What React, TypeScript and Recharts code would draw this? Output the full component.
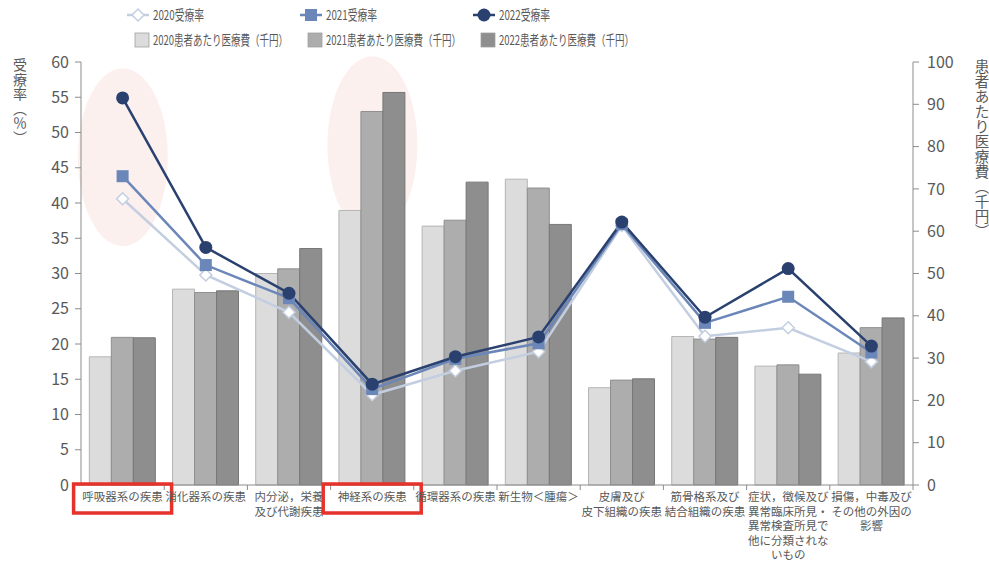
import React from 'react';
import { ComposedChart, Bar, Line, XAxis, YAxis } from 'recharts';

const categories = [
  '呼吸器系の疾患',
  '消化器系の疾患',
  '内分泌，栄養\n及び代謝疾患',
  '神経系の疾患',
  '循環器系の疾患',
  '新生物＜腫瘍＞',
  '皮膚及び\n皮下組織の疾患',
  '筋骨格系及び\n結合組織の疾患',
  '症状，徴候及び\n異常臨床所見・\n異常検査所見で\n他に分類されな\nいもの',
  '損傷，中毒及び\nその他の外因の\n影響',
];

// 受療率 (%) - left axis
const rate2020 = [40.6, 29.8, 24.5, 12.8, 16.2, 18.9, 36.8, 21.1, 22.3, 17.5];
const rate2021 = [43.8, 31.2, 26.5, 13.6, 17.9, 20.1, 37.0, 23.0, 26.7, 18.8];
const rate2022 = [54.9, 33.7, 27.2, 14.3, 18.2, 21.0, 37.3, 23.8, 30.7, 19.7];

// 患者あたり医療費 (千円) - right axis
const cost2020 = [30.3, 46.3, 50.0, 64.9, 61.2, 72.3, 23.0, 35.1, 28.1, 31.2];
const cost2021 = [34.9, 45.5, 51.1, 88.3, 62.6, 70.2, 24.8, 34.5, 28.4, 37.2];
const cost2022 = [34.8, 45.9, 55.9, 92.8, 71.6, 61.6, 25.1, 34.9, 26.2, 39.5];

// centre (on the % axis) of the pink highlight ellipses
const highlightCenter = [46.5, null, null, 48.2, null, null, null, null, null, null];

const leftTicks = [0, 5, 10, 15, 20, 25, 30, 35, 40, 45, 50, 55, 60];
const rightTicks = [0, 10, 20, 30, 40, 50, 60, 70, 80, 90, 100];

const highlighted = ['呼吸器系の疾患', '神経系の疾患'];

const leftTitle = ['受', '療', '率', '︵', '％', '︶'];
const rightTitle = ['患', '者', 'あ', 'た', 'り', '医', '療', '費', '︵', '千', '円', '︶'];

const FONT = "'Noto Sans CJK JP', 'Noto Sans', sans-serif";
const TEXT = '#595959';
const AXIS = '#8c8c8c';

const lineColors = { r2020: '#c3cee0', r2021: '#6b86b8', r2022: '#2a4170' };
const barColors = { c2020: '#dcdcdc', c2021: '#adadad', c2022: '#8e8e8e' };

const data = categories.map((name, i) => ({
  name,
  rate2020: rate2020[i],
  rate2021: rate2021[i],
  rate2022: rate2022[i],
  cost2020: cost2020[i],
  cost2021: cost2021[i],
  cost2022: cost2022[i],
  hl: highlightCenter[i],
}));

const Diamond = (props: any) => {
  const { cx, cy } = props;
  if (cx == null || cy == null) return null;
  const r = 6;
  return (
    <polygon
      points={`${cx},${cy - r} ${cx + r},${cy} ${cx},${cy + r} ${cx - r},${cy}`}
      fill="#fff"
      stroke={lineColors.r2020}
      strokeWidth={1.5}
    />
  );
};

const Square = (props: any) => {
  const { cx, cy } = props;
  if (cx == null || cy == null) return null;
  return <rect x={cx - 6} y={cy - 6} width={12} height={12} fill={lineColors.r2021} />;
};

const Circle = (props: any) => {
  const { cx, cy } = props;
  if (cx == null || cy == null) return null;
  return <circle cx={cx} cy={cy} r={6.5} fill={lineColors.r2022} />;
};

// bar shape: ellipse centred on the top of the (invisible) bar
const EllipseShape = (props: any) => {
  const { x, y, width, value } = props;
  if (value == null || x == null || y == null) return <g />;
  return <ellipse cx={x + width / 2} cy={y} rx={45} ry={89} fill="#fcf0ef" />;
};

const XTick = (props: any) => {
  const { x, y, payload } = props;
  const lines = String(payload.value).split('\n');
  const isHi = highlighted.includes(payload.value);
  return (
    <g>
      <line x1={x + 41.6} y1={y} x2={x + 41.6} y2={y + 5} stroke={AXIS} />
      {isHi && (
        <rect x={x - 49} y={y - 1} width={98} height={29} fill="none" stroke="#e5322b" strokeWidth={3.5} />
      )}
      <text x={x} y={y + 16} textAnchor="middle" fontSize={11.5} fill={TEXT} fontFamily={FONT}>
        {lines.map((l, i) => (
          <tspan key={i} x={x} dy={i === 0 ? 0 : 14.6}>
            {l}
          </tspan>
        ))}
      </text>
    </g>
  );
};

const legendRows = [
  [
    { label: '2020受療率', kind: 'diamond', len: 51 },
    { label: '2021受療率', kind: 'square', len: 51 },
    { label: '2022受療率', kind: 'circle', len: 51 },
  ],
  [
    { label: '2020患者あたり医療費（千円）', kind: 'bar', color: barColors.c2020, len: 135 },
    { label: '2021患者あたり医療費（千円）', kind: 'bar', color: barColors.c2021, len: 135 },
    { label: '2022患者あたり医療費（千円）', kind: 'bar', color: barColors.c2022, len: 135 },
  ],
];
const legendCols = [127, 300, 473];

const Legend2 = () => (
  <svg width={989} height={56} style={{ position: 'absolute', left: 0, top: 0 }}>
    {legendRows[0].map((it, i) => {
      const x0 = legendCols[i];
      const cy = 15;
      const color = [lineColors.r2020, lineColors.r2021, lineColors.r2022][i];
      return (
        <g key={it.label}>
          <line x1={x0} y1={cy} x2={x0 + 22} y2={cy} stroke={color} strokeWidth={2.5} />
          {it.kind === 'diamond' && <Diamond cx={x0 + 11} cy={cy} />}
          {it.kind === 'square' && <Square cx={x0 + 11} cy={cy} />}
          {it.kind === 'circle' && <Circle cx={x0 + 11} cy={cy} />}
          <text x={x0 + 26} y={cy + 5} fontSize={13.5} fill={TEXT} fontFamily={FONT} textLength={it.len} lengthAdjust="spacingAndGlyphs">
            {it.label}
          </text>
        </g>
      );
    })}
    {legendRows[1].map((it, i) => {
      const x0 = legendCols[i];
      const cy = 40;
      return (
        <g key={it.label}>
          <rect x={x0 + 8} y={cy - 7} width={14} height={14} fill={it.color} stroke="#a0a0a0" strokeWidth={0.8} />
          <text x={x0 + 26} y={cy + 5} fontSize={13.5} fill={TEXT} fontFamily={FONT} textLength={it.len} lengthAdjust="spacingAndGlyphs">
            {it.label}
          </text>
        </g>
      );
    })}
  </svg>
);

const StackedTitle = ({ chars, x, y, step, size }: { chars: string[]; x: number; y: number; step: number; size: number }) => (
  <text x={x} y={y} textAnchor="middle" dominantBaseline="central" fontSize={size} fill={TEXT} fontFamily={FONT}>
    {chars.map((c, i) => (
      <tspan key={i} x={x} y={y + i * step}>
        {c}
      </tspan>
    ))}
  </text>
);

const MARGIN = { top: 62, right: 0, left: 0, bottom: 0 };

export default function App() {
  return (
    <div style={{ position: 'absolute', left: 0, top: 0, width: 989, height: 563, background: '#fff' }}>
      {/* background layer: highlight ellipses behind the bars */}
      <div style={{ position: 'absolute', left: 0, top: 0 }}>
        <ComposedChart width={989} height={563} data={data} margin={MARGIN}>
          <XAxis dataKey="name" height={78} interval={0} tick={false} axisLine={false} tickLine={false} />
          <YAxis yAxisId="left" width={81} domain={[0, 60]} tick={false} axisLine={false} tickLine={false} />
          <YAxis yAxisId="right" orientation="right" width={76} domain={[0, 100]} tick={false} axisLine={false} tickLine={false} />
          <Bar yAxisId="left" dataKey="hl" shape={EllipseShape} isAnimationActive={false} />
        </ComposedChart>
      </div>
      <div style={{ position: 'absolute', left: 0, top: 0 }}>
        <ComposedChart
          width={989}
          height={563}
          data={data}
          margin={MARGIN}
          barCategoryGap="10%"
          barGap={0}
        >
          <XAxis
            dataKey="name"
            height={78}
            interval={0}
            tick={<XTick />}
            tickLine={false}
            tickSize={0}
            tickMargin={0}
            axisLine={{ stroke: AXIS }}
          />
          <YAxis
            yAxisId="left"
            orientation="left"
            width={81}
            domain={[0, 60]}
            ticks={leftTicks}
            interval={0}
            tickSize={6}
            tickMargin={6}
            axisLine={{ stroke: AXIS }}
            tickLine={{ stroke: AXIS }}
            tick={{ fontSize: 16, fill: TEXT, fontFamily: FONT }}
          />
          <YAxis
            yAxisId="right"
            orientation="right"
            width={76}
            domain={[0, 100]}
            ticks={rightTicks}
            interval={0}
            tickSize={6}
            tickMargin={8}
            axisLine={{ stroke: AXIS }}
            tickLine={{ stroke: AXIS }}
            tick={{ fontSize: 16, fill: TEXT, fontFamily: FONT }}
          />
          <Bar yAxisId="right" dataKey="cost2020" fill={barColors.c2020} stroke="#b5b5b5" strokeWidth={1} isAnimationActive={false} />
          <Bar yAxisId="right" dataKey="cost2021" fill={barColors.c2021} stroke="#8f8f8f" strokeWidth={1} isAnimationActive={false} />
          <Bar yAxisId="right" dataKey="cost2022" fill={barColors.c2022} stroke="#777" strokeWidth={1} isAnimationActive={false} />
          <Line
            yAxisId="left"
            dataKey="rate2020"
            stroke={lineColors.r2020}
            strokeWidth={2.5}
            dot={(p: any) => <Diamond key={p.index} {...p} />}
            activeDot={false}
            isAnimationActive={false}
          />
          <Line
            yAxisId="left"
            dataKey="rate2021"
            stroke={lineColors.r2021}
            strokeWidth={2.5}
            dot={(p: any) => <Square key={p.index} {...p} />}
            activeDot={false}
            isAnimationActive={false}
          />
          <Line
            yAxisId="left"
            dataKey="rate2022"
            stroke={lineColors.r2022}
            strokeWidth={2.5}
            dot={(p: any) => <Circle key={p.index} {...p} />}
            activeDot={false}
            isAnimationActive={false}
          />
        </ComposedChart>
      </div>
      <svg width={989} height={563} style={{ position: 'absolute', left: 0, top: 0, pointerEvents: 'none' }}>
        <StackedTitle chars={leftTitle} x={20} y={64} step={14.5} size={14} />
        <StackedTitle chars={rightTitle} x={982} y={64.5} step={15} size={14.5} />
      </svg>
      <Legend2 />
    </div>
  );
}
